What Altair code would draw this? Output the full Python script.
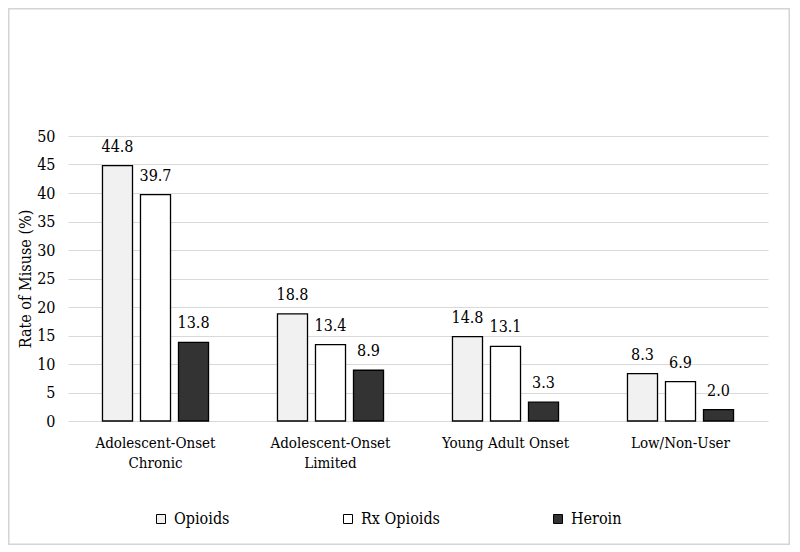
import altair as alt
import pandas as pd

FONT = "DejaVu Serif Condensed"

categories = ["Adolescent-Onset Chronic", "Adolescent-Onset Limited", "Young Adult Onset", "Low/Non-User"]
series = ["Opioids", "Rx Opioids", "Heroin"]
opioids = [44.8, 18.8, 14.8, 8.3]
rx_opioids = [39.7, 13.4, 13.1, 6.9]
heroin = [13.8, 8.9, 3.3, 2.0]
y_ticks = [0, 5, 10, 15, 20, 25, 30, 35, 40, 45, 50]
fills = ["#f1f1f1", "#ffffff", "#333333"]

rows = []
for s, vals in zip(series, [opioids, rx_opioids, heroin]):
    for c, v in zip(categories, vals):
        rows.append({"group": c, "series": s, "value": v})
df = pd.DataFrame(rows)

label_expr = ("indexof(datum.label, 'Adolescent-Onset ') == 0 ? "
              "['Adolescent-Onset', slice(datum.label, 17)] : datum.label")

x = alt.X("group:N", sort=categories,
          scale=alt.Scale(paddingInner=0.394, paddingOuter=0.197),
          axis=alt.Axis(title=None, labelAngle=0, labelExpr=label_expr,
                        labelFont=FONT, labelFontSize=15, labelColor="black",
                        labelPadding=14, labelLineHeight=20, ticks=False,
                        domain=False, grid=False))
xo = alt.XOffset("series:N", sort=series,
                 scale=alt.Scale(paddingInner=0.21, paddingOuter=0))
y = alt.Y("value:Q", scale=alt.Scale(domain=[0, 50]),
          axis=alt.Axis(values=y_ticks, tickCount=len(y_ticks) + 5, title="Rate of Misuse (%)",
                        titleFont=FONT, titleFontSize=16, titleFontWeight="normal",
                        titleColor="black", titlePadding=3,
                        labelFont=FONT, labelFontSize=16, labelColor="black",
                        labelPadding=13, labelOverlap=False, labelBound=False,
                        ticks=False, domain=False,
                        grid=True, gridColor="#d9d9d9", gridWidth=1))

bars = alt.Chart(df).mark_bar(stroke="black", strokeWidth=1.3).encode(
    x=x, xOffset=xo, y=y,
    color=alt.Color("series:N", sort=series,
                    scale=alt.Scale(domain=series, range=fills),
                    legend=alt.Legend(title=None, orient="none", legendX=85, legendY=375,
                                      direction="horizontal", symbolType="square",
                                      symbolSize=81, symbolStrokeColor="black",
                                      symbolStrokeWidth=1, labelFont=FONT,
                                      labelFontSize=16, labelColor="black",
                                      labelOffset=5, columnPadding=110)),
)

labels = alt.Chart(df).mark_text(font=FONT, fontSize=16, color="black",
                                 baseline="bottom", dy=-11).encode(
    x=x, xOffset=xo, y=y,
    text=alt.Text("value:Q", format=".1f"),
)

border_df = pd.DataFrame({"k": [0]})
border = alt.Chart(border_df).mark_rect(fillOpacity=0, stroke="#d4d4d4", strokeWidth=1.5).encode(
    x=alt.value(-59.25), x2=alt.value(721.25), y=alt.value(-127.25), y2=alt.value(408.25)
)

chart = alt.layer(border, bars, labels).properties(
    width=700, height=285,
    autosize=alt.AutoSizeParams(type="none"),
    padding={"left": 60, "top": 128, "right": 22, "bottom": 124},
).configure_view(strokeWidth=0)

chart.save("out.html", embed_options={"renderer": "svg", "actions": False})
